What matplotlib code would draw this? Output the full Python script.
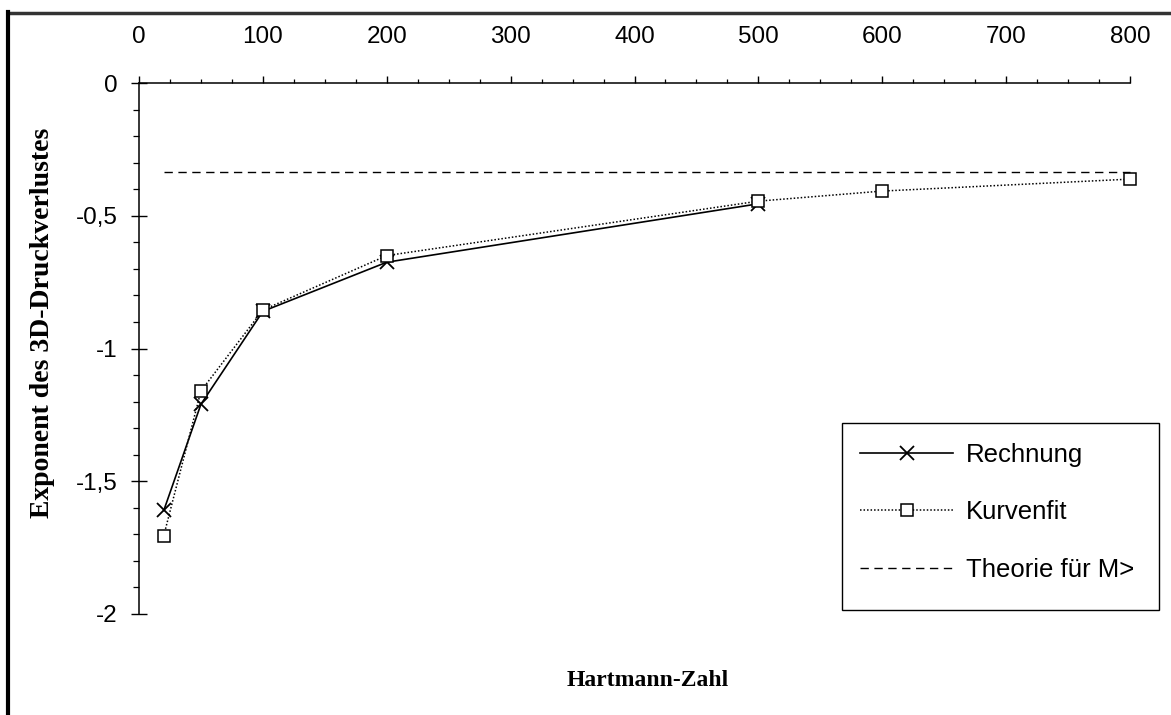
import matplotlib
matplotlib.use("Agg")
import matplotlib.pyplot as plt
from matplotlib.lines import Line2D
from matplotlib.patches import Rectangle
from matplotlib.ticker import FixedLocator, MultipleLocator

# Exponent des 3D-Druckverlustes über der Hartmann-Zahl
ha_rechnung = [20, 50, 100, 200, 500]
exp_rechnung = [-1.61, -1.21, -0.86, -0.675, -0.455]

ha_fit = [20, 50, 100, 200, 500, 600, 800]
exp_fit = [-1.705, -1.16, -0.855, -0.65, -0.445, -0.407, -0.362]

ha_theorie = [20, 800]
exp_theorie = [-1 / 3, -1 / 3]

x_ticks = [0, 100, 200, 300, 400, 500, 600, 700, 800]
y_ticks = [0, -0.5, -1, -1.5, -2]
y_ticklabels = ["0", "-0,5", "-1", "-1,5", "-2"]

series_labels = ["Rechnung", "Kurvenfit", "Theorie für M>"]

W, H = 1171, 715
fig = plt.figure(figsize=(W / 100, H / 100), dpi=100)

def fx(px):
    return px / W

def fy(py):
    return 1 - py / H

left, right, top, bottom = 139, 1130, 83, 614
ax = fig.add_axes([fx(left), fy(bottom), fx(right) - fx(left), fy(top) - fy(bottom)])

sans = ["Liberation Sans", "DejaVu Sans"]
serif = ["Liberation Serif", "DejaVu Serif"]

ax.plot(ha_rechnung, exp_rechnung, color="black", lw=1.2, marker="x",
        ms=10, mew=1.3, clip_on=False, label=series_labels[0])
ax.plot(ha_fit, exp_fit, color="black", lw=1.1, ls=(0, (1, 1.3)), marker="s",
        ms=9, mew=1.1, mfc="white", clip_on=False, label=series_labels[1])
ax.plot(ha_theorie, exp_theorie, color="black", lw=1.0, ls=(0, (6, 4)),
        clip_on=False, label=series_labels[2])

ax.set_xlim(0, 800)
ax.set_ylim(-2, 0)

for s in ["bottom", "right"]:
    ax.spines[s].set_visible(False)
for s in ["top", "left"]:
    ax.spines[s].set_linewidth(1.1)

ax.xaxis.set_ticks_position("top")
ax.xaxis.set_major_locator(FixedLocator(x_ticks))
ax.xaxis.set_minor_locator(MultipleLocator(25))
ax.tick_params(axis="x", which="major", direction="out", length=5, width=1,
               pad=20, labelsize=17.5)
ax.tick_params(axis="x", which="minor", direction="out", length=3, width=0.9)
for lab in ax.get_xticklabels():
    lab.set_fontfamily(sans)

ax.yaxis.set_major_locator(FixedLocator(y_ticks))
ax.set_yticklabels(y_ticklabels, fontfamily=sans)
ax.yaxis.set_minor_locator(MultipleLocator(0.1))
ax.tick_params(axis="y", which="major", direction="inout", length=11, width=1,
               pad=10, labelsize=17.5)
ax.tick_params(axis="y", which="minor", direction="out", length=4, width=0.9)

ax.set_ylabel("Exponent des 3D-Druckverlustes", fontfamily=serif,
              fontweight="bold", fontsize=20, va="center", ha="center")
ax.yaxis.set_label_coords((43 - left) / (right - left), (bottom - 323) / (bottom - top))

ax.set_xlabel("Hartmann-Zahl", fontfamily=serif, fontweight="bold",
              fontsize=17, va="center", ha="center")
ax.xaxis.set_label_position("top")
ax.xaxis.set_label_coords((648 - left) / (right - left), (bottom - 686) / (bottom - top))

# Legend box
fig.patches.append(Rectangle((fx(842), fy(610)), fx(1159) - fx(842), fy(423) - fy(610),
                             transform=fig.transFigure, fill=False,
                             edgecolor="black", lw=1.0))
leg = ax.legend(loc="upper left", bbox_to_anchor=(fx(860), fy(443)),
                bbox_transform=fig.transFigure, frameon=False, borderpad=0,
                borderaxespad=0, handlelength=3.62, handletextpad=0.51,
                labelspacing=1.3, prop={"family": sans, "size": 18.5})

# Page frame lines
fig.add_artist(Line2D([fx(8), fx(W)], [fy(13), fy(13)], color="#333333", lw=2.5))
fig.add_artist(Line2D([fx(8), fx(8)], [fy(12), fy(H)], color="black", lw=3))

fig.savefig("out.png", dpi=100)
